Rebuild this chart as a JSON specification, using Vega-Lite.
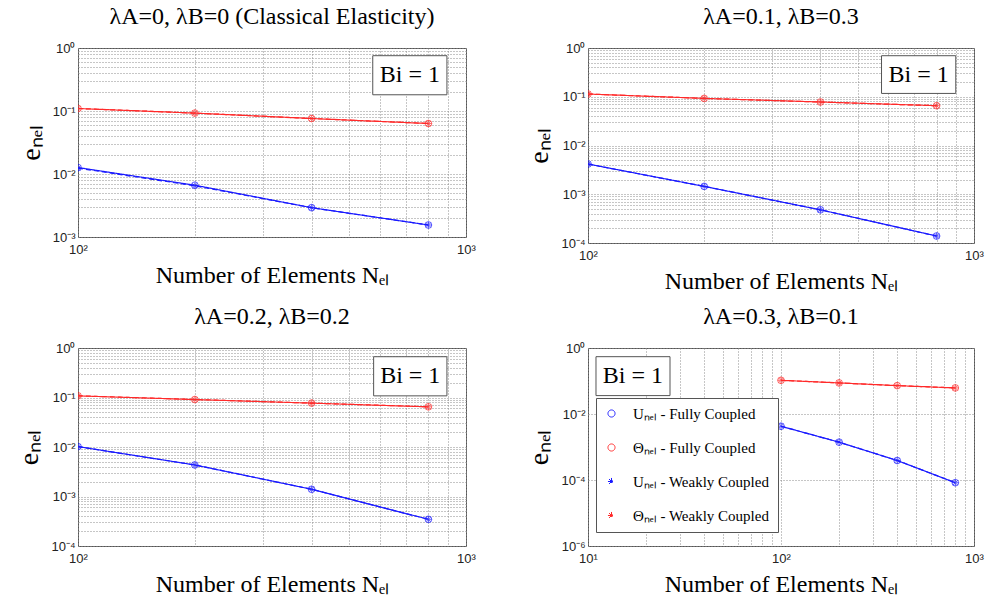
{
"$schema": "https://vega.github.io/schema/vega-lite/v6.json",
"background": "white",
"padding": {"left": 15, "top": 4, "right": 5, "bottom": 5},
"bounds": "flush",
"columns": 2,
"spacing": {"row": 105, "column": 122},
"datasets": {
"err": [
{"panel":"1","series":"Uₙₑₗ - Fully Coupled","N":100,"e":0.01265},
{"panel":"1","series":"Uₙₑₗ - Fully Coupled","N":200,"e":0.00664},
{"panel":"1","series":"Uₙₑₗ - Fully Coupled","N":400,"e":0.00292},
{"panel":"1","series":"Uₙₑₗ - Fully Coupled","N":800,"e":0.00155},
{"panel":"1","series":"Θₙₑₗ - Fully Coupled","N":100,"e":0.1096},
{"panel":"1","series":"Θₙₑₗ - Fully Coupled","N":200,"e":0.0926},
{"panel":"1","series":"Θₙₑₗ - Fully Coupled","N":400,"e":0.076},
{"panel":"1","series":"Θₙₑₗ - Fully Coupled","N":800,"e":0.0633},
{"panel":"1","series":"Uₙₑₗ - Weakly Coupled","N":100,"e":0.0124},
{"panel":"1","series":"Uₙₑₗ - Weakly Coupled","N":200,"e":0.0065},
{"panel":"1","series":"Uₙₑₗ - Weakly Coupled","N":400,"e":0.00292},
{"panel":"1","series":"Uₙₑₗ - Weakly Coupled","N":800,"e":0.00155},
{"panel":"1","series":"Θₙₑₗ - Weakly Coupled","N":100,"e":0.1096},
{"panel":"1","series":"Θₙₑₗ - Weakly Coupled","N":200,"e":0.0926},
{"panel":"1","series":"Θₙₑₗ - Weakly Coupled","N":400,"e":0.076},
{"panel":"1","series":"Θₙₑₗ - Weakly Coupled","N":800,"e":0.0633},
{"panel":"2","series":"Uₙₑₗ - Fully Coupled","N":100,"e":0.00417},
{"panel":"2","series":"Uₙₑₗ - Fully Coupled","N":200,"e":0.00145},
{"panel":"2","series":"Uₙₑₗ - Fully Coupled","N":400,"e":0.00048},
{"panel":"2","series":"Uₙₑₗ - Fully Coupled","N":800,"e":0.000139},
{"panel":"2","series":"Θₙₑₗ - Fully Coupled","N":100,"e":0.1138},
{"panel":"2","series":"Θₙₑₗ - Fully Coupled","N":200,"e":0.0925},
{"panel":"2","series":"Θₙₑₗ - Fully Coupled","N":400,"e":0.078},
{"panel":"2","series":"Θₙₑₗ - Fully Coupled","N":800,"e":0.0655},
{"panel":"2","series":"Uₙₑₗ - Weakly Coupled","N":100,"e":0.00417},
{"panel":"2","series":"Uₙₑₗ - Weakly Coupled","N":200,"e":0.00145},
{"panel":"2","series":"Uₙₑₗ - Weakly Coupled","N":400,"e":0.00048},
{"panel":"2","series":"Uₙₑₗ - Weakly Coupled","N":800,"e":0.000139},
{"panel":"2","series":"Θₙₑₗ - Weakly Coupled","N":100,"e":0.1138},
{"panel":"2","series":"Θₙₑₗ - Weakly Coupled","N":200,"e":0.0925},
{"panel":"2","series":"Θₙₑₗ - Weakly Coupled","N":400,"e":0.078},
{"panel":"2","series":"Θₙₑₗ - Weakly Coupled","N":800,"e":0.0655},
{"panel":"3","series":"Uₙₑₗ - Fully Coupled","N":100,"e":0.0102},
{"panel":"3","series":"Uₙₑₗ - Fully Coupled","N":200,"e":0.00434},
{"panel":"3","series":"Uₙₑₗ - Fully Coupled","N":400,"e":0.0014},
{"panel":"3","series":"Uₙₑₗ - Fully Coupled","N":800,"e":0.000346},
{"panel":"3","series":"Θₙₑₗ - Fully Coupled","N":100,"e":0.108},
{"panel":"3","series":"Θₙₑₗ - Fully Coupled","N":200,"e":0.091},
{"panel":"3","series":"Θₙₑₗ - Fully Coupled","N":400,"e":0.077},
{"panel":"3","series":"Θₙₑₗ - Fully Coupled","N":800,"e":0.0648},
{"panel":"3","series":"Uₙₑₗ - Weakly Coupled","N":100,"e":0.0102},
{"panel":"3","series":"Uₙₑₗ - Weakly Coupled","N":200,"e":0.00434},
{"panel":"3","series":"Uₙₑₗ - Weakly Coupled","N":400,"e":0.0014},
{"panel":"3","series":"Uₙₑₗ - Weakly Coupled","N":800,"e":0.000346},
{"panel":"3","series":"Θₙₑₗ - Weakly Coupled","N":100,"e":0.108},
{"panel":"3","series":"Θₙₑₗ - Weakly Coupled","N":200,"e":0.091},
{"panel":"3","series":"Θₙₑₗ - Weakly Coupled","N":400,"e":0.077},
{"panel":"3","series":"Θₙₑₗ - Weakly Coupled","N":800,"e":0.0648},
{"panel":"4","series":"Uₙₑₗ - Fully Coupled","N":100,"e":0.00426},
{"panel":"4","series":"Uₙₑₗ - Fully Coupled","N":200,"e":0.0014},
{"panel":"4","series":"Uₙₑₗ - Fully Coupled","N":400,"e":0.00039},
{"panel":"4","series":"Uₙₑₗ - Fully Coupled","N":800,"e":0.0000828},
{"panel":"4","series":"Θₙₑₗ - Fully Coupled","N":100,"e":0.105},
{"panel":"4","series":"Θₙₑₗ - Fully Coupled","N":200,"e":0.0875},
{"panel":"4","series":"Θₙₑₗ - Fully Coupled","N":400,"e":0.0724},
{"panel":"4","series":"Θₙₑₗ - Fully Coupled","N":800,"e":0.0617},
{"panel":"4","series":"Uₙₑₗ - Weakly Coupled","N":100,"e":0.00426},
{"panel":"4","series":"Uₙₑₗ - Weakly Coupled","N":200,"e":0.0014},
{"panel":"4","series":"Uₙₑₗ - Weakly Coupled","N":400,"e":0.00039},
{"panel":"4","series":"Uₙₑₗ - Weakly Coupled","N":800,"e":0.0000828},
{"panel":"4","series":"Θₙₑₗ - Weakly Coupled","N":100,"e":0.105},
{"panel":"4","series":"Θₙₑₗ - Weakly Coupled","N":200,"e":0.0875},
{"panel":"4","series":"Θₙₑₗ - Weakly Coupled","N":400,"e":0.0724},
{"panel":"4","series":"Θₙₑₗ - Weakly Coupled","N":800,"e":0.0617}
]
},
"resolve": {"scale": {"color": "independent", "stroke": "independent", "strokeDash": "independent", "shape": "independent"}},
"config": {
"font": "Liberation Sans",
"view": {"stroke": "#555555", "strokeWidth": 1},
"axis": {"labelFont": "Liberation Sans", "labelFontSize": 13, "labelColor": "#222222", "titleFont": "Liberation Serif", "titleFontWeight": "normal", "titleColor": "#000000", "domain": false, "ticks": false, "grid": true, "gridDash": [1, 2], "gridColor": "#8c8c8c", "gridWidth": 1, "labelOverlap": false, "labelFlush": false, "labelBound": false},
"axisX": {"titleFontSize": 24, "labelPadding": 6, "titlePadding": 7},
"axisY": {"titleFontSize": 28, "labelPadding": 3, "titlePadding": 7},
"title": {"font": "Liberation Serif", "fontSize": 24, "fontWeight": "normal", "color": "#000000", "offset": 13, "anchor": "middle", "frame": "group"}
},
"concat": [
{
"width": 388, "height": 189,
"title": "λA=0, λB=0 (Classical Elasticity)",
"data": {"name": "err"},
"transform": [{"filter": "datum.panel == '1'"}],
"layer": [
{"mark": {"type": "line", "strokeWidth": 1.2, "clip": true},
"encoding": {
"x": {"field": "N", "type": "quantitative", "scale": {"type": "log", "domain": [100, 1000], "nice": false}, "axis": {"title": "Number of Elements Nₑₗ", "values": [100,200,300,400,500,600,700,800,900,1000], "labelExpr": "datum.value==100?'10²':datum.value==1000?'10³':''"}},
"y": {"field": "e", "type": "quantitative", "scale": {"type": "log", "domain": [0.001, 1], "nice": false}, "axis": {"title": "eₙₑₗ", "values": [0.001,0.002,0.003,0.004,0.005,0.006,0.007,0.008,0.009,0.01,0.02,0.03,0.04,0.05,0.06,0.07,0.08,0.09,0.1,0.2,0.3,0.4,0.5,0.6,0.7,0.8,0.9,1], "labelExpr": "datum.value==1?'10⁰':datum.value==0.1?'10⁻¹':datum.value==0.01?'10⁻²':datum.value==0.001?'10⁻³':''"}},
"color": {"field": "series", "type": "nominal", "scale": {"domain": ["Uₙₑₗ - Fully Coupled","Θₙₑₗ - Fully Coupled","Uₙₑₗ - Weakly Coupled","Θₙₑₗ - Weakly Coupled"], "range": ["#1a1aff","#ff2a2a","#1a1aff","#ff2a2a"]}, "legend": null},
"strokeDash": {"field": "series", "type": "nominal", "scale": {"domain": ["Uₙₑₗ - Fully Coupled","Θₙₑₗ - Fully Coupled","Uₙₑₗ - Weakly Coupled","Θₙₑₗ - Weakly Coupled"], "range": [[1,0],[1,0],[5,3],[5,3]]}, "legend": null}
}},
{"mark": {"type": "point", "filled": false, "strokeWidth": 1, "size": 45, "clip": true},
"encoding": {
"x": {"field": "N", "type": "quantitative"},
"y": {"field": "e", "type": "quantitative"},
"stroke": {"field": "series", "type": "nominal", "scale": {"domain": ["Uₙₑₗ - Fully Coupled","Θₙₑₗ - Fully Coupled","Uₙₑₗ - Weakly Coupled","Θₙₑₗ - Weakly Coupled"], "range": ["#1a1aff","#ff2a2a","#1a1aff","#ff2a2a"]}, "legend": null},
"shape": {"field": "series", "type": "nominal", "scale": {"domain": ["Uₙₑₗ - Fully Coupled","Θₙₑₗ - Fully Coupled","Uₙₑₗ - Weakly Coupled","Θₙₑₗ - Weakly Coupled"], "range": ["circle","circle","M-1,0H1M0,-1V1M-0.7,-0.7L0.7,0.7M-0.7,0.7L0.7,-0.7","M-1,0H1M0,-1V1M-0.7,-0.7L0.7,0.7M-0.7,0.7L0.7,-0.7"]}, "legend": null}
}},
{"data": {"values": [{"label": "Bi = 1"}]},
"mark": {"type": "rect", "fill": "white", "stroke": "#555555", "strokeWidth": 1},
"encoding": {"x": {"datum": 575, "type": "quantitative"}, "x2": {"datum": 893}, "y": {"datum": 0.755, "type": "quantitative"}, "y2": {"datum": 0.181}}},
{"data": {"values": [{"label": "Bi = 1"}]},
"mark": {"type": "text", "font": "Liberation Serif", "fontSize": 24, "align": "center", "baseline": "middle", "color": "#000000"},
"encoding": {"x": {"datum": 716.6, "type": "quantitative"}, "y": {"datum": 0.37, "type": "quantitative"}, "text": {"field": "label"}}}
]
},
{
"width": 386, "height": 195,
"title": "λA=0.1, λB=0.3",
"data": {"name": "err"},
"transform": [{"filter": "datum.panel == '2'"}],
"layer": [
{"mark": {"type": "line", "strokeWidth": 1.2, "clip": true},
"encoding": {
"x": {"field": "N", "type": "quantitative", "scale": {"type": "log", "domain": [100, 1000], "nice": false}, "axis": {"title": "Number of Elements Nₑₗ", "values": [100,200,300,400,500,600,700,800,900,1000], "labelExpr": "datum.value==100?'10²':datum.value==1000?'10³':''"}},
"y": {"field": "e", "type": "quantitative", "scale": {"type": "log", "domain": [0.0001, 1], "nice": false}, "axis": {"title": "eₙₑₗ", "values": [0.0001,0.0002,0.0003,0.0004,0.0005,0.0006,0.0007,0.0008,0.0009,0.001,0.002,0.003,0.004,0.005,0.006,0.007,0.008,0.009,0.01,0.02,0.03,0.04,0.05,0.06,0.07,0.08,0.09,0.1,0.2,0.3,0.4,0.5,0.6,0.7,0.8,0.9,1], "labelExpr": "datum.value==1?'10⁰':datum.value==0.1?'10⁻¹':datum.value==0.01?'10⁻²':datum.value==0.001?'10⁻³':datum.value==0.0001?'10⁻⁴':''"}},
"color": {"field": "series", "type": "nominal", "scale": {"domain": ["Uₙₑₗ - Fully Coupled","Θₙₑₗ - Fully Coupled","Uₙₑₗ - Weakly Coupled","Θₙₑₗ - Weakly Coupled"], "range": ["#1a1aff","#ff2a2a","#1a1aff","#ff2a2a"]}, "legend": null},
"strokeDash": {"field": "series", "type": "nominal", "scale": {"domain": ["Uₙₑₗ - Fully Coupled","Θₙₑₗ - Fully Coupled","Uₙₑₗ - Weakly Coupled","Θₙₑₗ - Weakly Coupled"], "range": [[1,0],[1,0],[5,3],[5,3]]}, "legend": null}
}},
{"mark": {"type": "point", "filled": false, "strokeWidth": 1, "size": 45, "clip": true},
"encoding": {
"x": {"field": "N", "type": "quantitative"},
"y": {"field": "e", "type": "quantitative"},
"stroke": {"field": "series", "type": "nominal", "scale": {"domain": ["Uₙₑₗ - Fully Coupled","Θₙₑₗ - Fully Coupled","Uₙₑₗ - Weakly Coupled","Θₙₑₗ - Weakly Coupled"], "range": ["#1a1aff","#ff2a2a","#1a1aff","#ff2a2a"]}, "legend": null},
"shape": {"field": "series", "type": "nominal", "scale": {"domain": ["Uₙₑₗ - Fully Coupled","Θₙₑₗ - Fully Coupled","Uₙₑₗ - Weakly Coupled","Θₙₑₗ - Weakly Coupled"], "range": ["circle","circle","M-1,0H1M0,-1V1M-0.7,-0.7L0.7,0.7M-0.7,0.7L0.7,-0.7","M-1,0H1M0,-1V1M-0.7,-0.7L0.7,0.7M-0.7,0.7L0.7,-0.7"]}, "legend": null}
}},
{"data": {"values": [{"label": "Bi = 1"}]},
"mark": {"type": "rect", "fill": "white", "stroke": "#555555", "strokeWidth": 1},
"encoding": {"x": {"datum": 576, "type": "quantitative"}, "x2": {"datum": 897}, "y": {"datum": 0.695, "type": "quantitative"}, "y2": {"datum": 0.117}}},
{"data": {"values": [{"label": "Bi = 1"}]},
"mark": {"type": "text", "font": "Liberation Serif", "fontSize": 24, "align": "center", "baseline": "middle", "color": "#000000"},
"encoding": {"x": {"datum": 718.8, "type": "quantitative"}, "y": {"datum": 0.285, "type": "quantitative"}, "text": {"field": "label"}}}
]
},
{
"width": 388, "height": 198,
"title": "λA=0.2, λB=0.2",
"data": {"name": "err"},
"transform": [{"filter": "datum.panel == '3'"}],
"layer": [
{"mark": {"type": "line", "strokeWidth": 1.2, "clip": true},
"encoding": {
"x": {"field": "N", "type": "quantitative", "scale": {"type": "log", "domain": [100, 1000], "nice": false}, "axis": {"title": "Number of Elements Nₑₗ", "values": [100,200,300,400,500,600,700,800,900,1000], "labelExpr": "datum.value==100?'10²':datum.value==1000?'10³':''"}},
"y": {"field": "e", "type": "quantitative", "scale": {"type": "log", "domain": [0.0001, 1], "nice": false}, "axis": {"title": "eₙₑₗ", "values": [0.0001,0.0002,0.0003,0.0004,0.0005,0.0006,0.0007,0.0008,0.0009,0.001,0.002,0.003,0.004,0.005,0.006,0.007,0.008,0.009,0.01,0.02,0.03,0.04,0.05,0.06,0.07,0.08,0.09,0.1,0.2,0.3,0.4,0.5,0.6,0.7,0.8,0.9,1], "labelExpr": "datum.value==1?'10⁰':datum.value==0.1?'10⁻¹':datum.value==0.01?'10⁻²':datum.value==0.001?'10⁻³':datum.value==0.0001?'10⁻⁴':''"}},
"color": {"field": "series", "type": "nominal", "scale": {"domain": ["Uₙₑₗ - Fully Coupled","Θₙₑₗ - Fully Coupled","Uₙₑₗ - Weakly Coupled","Θₙₑₗ - Weakly Coupled"], "range": ["#1a1aff","#ff2a2a","#1a1aff","#ff2a2a"]}, "legend": null},
"strokeDash": {"field": "series", "type": "nominal", "scale": {"domain": ["Uₙₑₗ - Fully Coupled","Θₙₑₗ - Fully Coupled","Uₙₑₗ - Weakly Coupled","Θₙₑₗ - Weakly Coupled"], "range": [[1,0],[1,0],[5,3],[5,3]]}, "legend": null}
}},
{"mark": {"type": "point", "filled": false, "strokeWidth": 1, "size": 45, "clip": true},
"encoding": {
"x": {"field": "N", "type": "quantitative"},
"y": {"field": "e", "type": "quantitative"},
"stroke": {"field": "series", "type": "nominal", "scale": {"domain": ["Uₙₑₗ - Fully Coupled","Θₙₑₗ - Fully Coupled","Uₙₑₗ - Weakly Coupled","Θₙₑₗ - Weakly Coupled"], "range": ["#1a1aff","#ff2a2a","#1a1aff","#ff2a2a"]}, "legend": null},
"shape": {"field": "series", "type": "nominal", "scale": {"domain": ["Uₙₑₗ - Fully Coupled","Θₙₑₗ - Fully Coupled","Uₙₑₗ - Weakly Coupled","Θₙₑₗ - Weakly Coupled"], "range": ["circle","circle","M-1,0H1M0,-1V1M-0.7,-0.7L0.7,0.7M-0.7,0.7L0.7,-0.7","M-1,0H1M0,-1V1M-0.7,-0.7L0.7,0.7M-0.7,0.7L0.7,-0.7"]}, "legend": null}
}},
{"data": {"values": [{"label": "Bi = 1"}]},
"mark": {"type": "rect", "fill": "white", "stroke": "#555555", "strokeWidth": 1},
"encoding": {"x": {"datum": 578, "type": "quantitative"}, "x2": {"datum": 893}, "y": {"datum": 0.667, "type": "quantitative"}, "y2": {"datum": 0.108}}},
{"data": {"values": [{"label": "Bi = 1"}]},
"mark": {"type": "text", "font": "Liberation Serif", "fontSize": 24, "align": "center", "baseline": "middle", "color": "#000000"},
"encoding": {"x": {"datum": 718.4, "type": "quantitative"}, "y": {"datum": 0.268, "type": "quantitative"}, "text": {"field": "label"}}}
]
},
{
"width": 386, "height": 198,
"title": "λA=0.3, λB=0.1",
"data": {"name": "err"},
"transform": [{"filter": "datum.panel == '4'"}],
"layer": [
{"mark": {"type": "line", "strokeWidth": 1.2, "clip": true},
"encoding": {
"x": {"field": "N", "type": "quantitative", "scale": {"type": "log", "domain": [10, 1000], "nice": false}, "axis": {"title": "Number of Elements Nₑₗ", "values": [10,20,30,40,50,60,70,80,90,100,200,300,400,500,600,700,800,900,1000], "labelExpr": "datum.value==10?'10¹':datum.value==100?'10²':datum.value==1000?'10³':''"}},
"y": {"field": "e", "type": "quantitative", "scale": {"type": "log", "domain": [0.000001, 1], "nice": false}, "axis": {"title": "eₙₑₗ", "values": [0.000001,0.0001,0.01,1], "labelExpr": "datum.value==1?'10⁰':datum.value==0.01?'10⁻²':datum.value==0.0001?'10⁻⁴':datum.value==0.000001?'10⁻⁶':''"}},
"color": {"field": "series", "type": "nominal", "scale": {"domain": ["Uₙₑₗ - Fully Coupled","Θₙₑₗ - Fully Coupled","Uₙₑₗ - Weakly Coupled","Θₙₑₗ - Weakly Coupled"], "range": ["#1a1aff","#ff2a2a","#1a1aff","#ff2a2a"]},
"legend": {"orient": "none", "legendX": 8, "legendY": 50, "title": null, "strokeColor": "#555555", "fillColor": "white", "padding": 8, "labelFont": "Liberation Serif", "labelFontSize": 15, "labelColor": "#000000", "symbolSize": 50, "symbolStrokeWidth": 1, "rowPadding": 18, "labelOffset": 14, "symbolType": "M-1,0H1M-0.3,0L0,-0.3L0.3,0L0,0.3L-0.3,0",
"encode": {"symbols": {"update": {"strokeDash": {"signal": "indexof(datum.value,'Weakly')>=0 ? [2,1.5] : [1,0]"}, "fill": {"value": "transparent"}}}}}},
"strokeDash": {"field": "series", "type": "nominal", "scale": {"domain": ["Uₙₑₗ - Fully Coupled","Θₙₑₗ - Fully Coupled","Uₙₑₗ - Weakly Coupled","Θₙₑₗ - Weakly Coupled"], "range": [[1,0],[1,0],[5,3],[5,3]]}, "legend": null}
}},
{"mark": {"type": "point", "filled": false, "strokeWidth": 1, "size": 45, "clip": true},
"encoding": {
"x": {"field": "N", "type": "quantitative"},
"y": {"field": "e", "type": "quantitative"},
"stroke": {"field": "series", "type": "nominal", "scale": {"domain": ["Uₙₑₗ - Fully Coupled","Θₙₑₗ - Fully Coupled","Uₙₑₗ - Weakly Coupled","Θₙₑₗ - Weakly Coupled"], "range": ["#1a1aff","#ff2a2a","#1a1aff","#ff2a2a"]}, "legend": null},
"shape": {"field": "series", "type": "nominal", "scale": {"domain": ["Uₙₑₗ - Fully Coupled","Θₙₑₗ - Fully Coupled","Uₙₑₗ - Weakly Coupled","Θₙₑₗ - Weakly Coupled"], "range": ["circle","circle","M-1,0H1M0,-1V1M-0.7,-0.7L0.7,0.7M-0.7,0.7L0.7,-0.7","M-1,0H1M0,-1V1M-0.7,-0.7L0.7,0.7M-0.7,0.7L0.7,-0.7"]}, "legend": null}
}},
{"data": {"values": [{"label": "Bi = 1"}]},
"mark": {"type": "rect", "fill": "white", "stroke": "#555555", "strokeWidth": 1},
"encoding": {"x": {"datum": 11, "type": "quantitative"}, "x2": {"datum": 26.6}, "y": {"datum": 0.546, "type": "quantitative"}, "y2": {"datum": 0.0361}}},
{"data": {"values": [{"label": "Bi = 1"}]},
"mark": {"type": "text", "font": "Liberation Serif", "fontSize": 24, "align": "center", "baseline": "middle", "color": "#000000"},
"encoding": {"x": {"datum": 17.1, "type": "quantitative"}, "y": {"datum": 0.14, "type": "quantitative"}, "text": {"field": "label"}}}
]
}
]
}
